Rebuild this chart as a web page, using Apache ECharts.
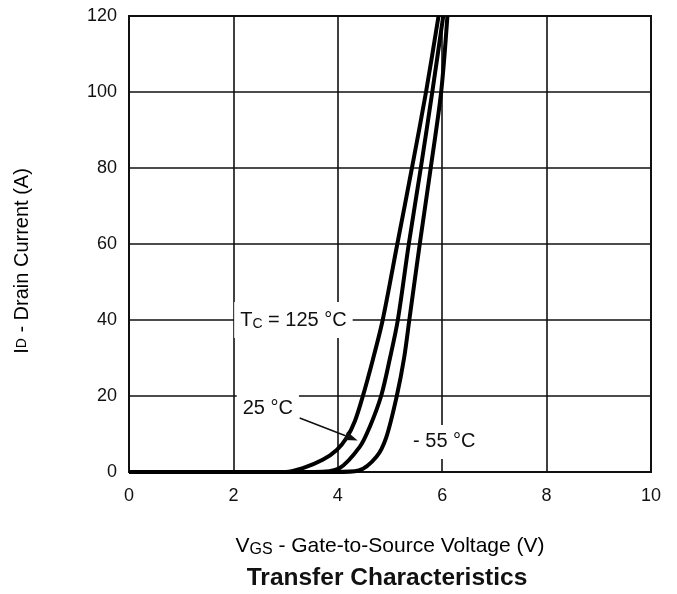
<!DOCTYPE html>
<html><head><meta charset="utf-8">
<script src="https://cdn.jsdelivr.net/npm/echarts@6/dist/echarts.min.js"></script>
<style>html,body{margin:0;padding:0;background:#fff}#c{width:677px;height:594px}</style>
</head><body><div id="c"></div>
<script>
// ---- data ----
const xTicks = [0, 2, 4, 6, 8, 10];
const yTicks = [0, 20, 40, 60, 80, 100, 120];
const seriesNames = ['125 °C', '25 °C', '-55 °C'];
const v125 = [0, 2.6, 3.0, 3.33, 3.71, 3.98, 4.17, 4.33, 4.47, 4.67, 4.86, 5.14, 5.42, 5.69, 5.93];
const i125 = [0, 0, 0, 1.0, 3.2, 5.8, 9, 13.5, 19.5, 29.5, 40, 60, 80, 100, 120];
const v25 = [0, 3, 3.55, 4.03, 4.42, 4.61, 4.83, 5.0, 5.15, 5.36, 5.59, 5.81, 6.02];
const i25 = [0, 0, 0, 1, 6.6, 11.8, 20, 30, 40, 60, 80, 100, 120];
const vm55 = [0, 3.5, 3.95, 4.4, 4.74, 4.93, 5.13, 5.27, 5.37, 5.57, 5.78, 5.98, 6.1];
const im55 = [0, 0, 0, 0.4, 4, 9.2, 20, 30, 40, 60, 80, 100, 120];
// annotation anchors (data coords)
const lbl125 = [3.15, 40];
const lbl25 = [2.66, 16.8];
const lblm55 = [6.04, 7.9];
const arrowFrom = [3.27, 14.2];
const arrowTo = [4.38, 8.3];

const FONT = '"Liberation Sans", Arial, sans-serif';
const pairs = (xs, ys) => xs.map((x, i) => [x, ys[i]]);

const chart = echarts.init(document.getElementById('c'));
const lineStyle = { color: '#000', width: 4 };
chart.setOption({
  animation: false,
  backgroundColor: '#fff',
  grid: { left: 129, top: 16, right: 26, bottom: 122, show: true, borderColor: '#111', borderWidth: 2 },
  xAxis: {
    type: 'value', min: 0, max: 10, interval: 2,
    axisLine: { show: false }, axisTick: { show: false },
    splitLine: { show: true, lineStyle: { color: '#111', width: 1.6 } },
    axisLabel: { color: '#111', fontSize: 18, fontFamily: FONT, margin: 15,
      formatter: v => xTicks.includes(v) ? String(v) : '' }
  },
  yAxis: {
    type: 'value', min: 0, max: 120, interval: 20,
    axisLine: { show: false }, axisTick: { show: false },
    splitLine: { show: true, lineStyle: { color: '#111', width: 1.6 } },
    axisLabel: { color: '#111', fontSize: 18, fontFamily: FONT, margin: 12,
      formatter: v => yTicks.includes(v) ? String(v) : '' }
  },
  series: [
    { name: seriesNames[0], type: 'line', data: pairs(v125, i125), showSymbol: false, smooth: 0.3, lineStyle, z: 3 },
    { name: seriesNames[1], type: 'line', data: pairs(v25, i25), showSymbol: false, smooth: 0.3, lineStyle, z: 3 },
    { name: seriesNames[2], type: 'line', data: pairs(vm55, im55), showSymbol: false, smooth: 0.3, lineStyle, z: 3 }
  ]
});

const px = p => chart.convertToPixel({ xAxisIndex: 0, yAxisIndex: 0 }, p);
const p125 = px(lbl125), p25 = px(lbl25), pm55 = px(lblm55);
const a0 = px(arrowFrom), a1 = px(arrowTo);
const ang = Math.atan2(a1[1] - a0[1], a1[0] - a0[0]);
const hl = 13, hw = 4.5;
const bx = a1[0] - hl * Math.cos(ang), by = a1[1] - hl * Math.sin(ang);
const head = [
  [a1[0], a1[1]],
  [bx - hw * Math.sin(ang), by + hw * Math.cos(ang)],
  [bx + hw * Math.sin(ang), by - hw * Math.cos(ang)]
];
const labelStyle = (text, rich) => ({
  text, rich, fill: '#111', font: '20px ' + FONT,
  align: 'center', verticalAlign: 'middle',
  backgroundColor: '#fff', padding: [7, 6, 7, 6]
});
const r = { a: { fontSize: 20, fontFamily: FONT, color: '#111' }, s: { fontSize: 14, fontFamily: FONT, color: '#111', padding: [8, 0, 0, 0] } };
chart.setOption({
  graphic: [
    { type: 'text', x: p125[0], y: p125[1], z: 10, style: labelStyle('{a|T}{s|C}{a| = 125 °C}', r) },
    { type: 'text', x: p25[0], y: p25[1], z: 10, style: labelStyle('{a|25 °C}', r) },
    { type: 'text', x: pm55[0], y: pm55[1], z: 10, style: labelStyle('{a|- 55 °C}', r) },
    { type: 'line', z: 11, shape: { x1: a0[0], y1: a0[1], x2: bx, y2: by }, style: { stroke: '#111', lineWidth: 1.5 } },
    { type: 'polygon', z: 11, shape: { points: head }, style: { fill: '#111' } },
    { type: 'text', x: 22, y: 261, rotation: Math.PI / 2, z: 10,
      style: { text: '{a|I}{s|D}{a| - Drain Current (A)}', align: 'center', verticalAlign: 'middle',
        rich: { a: { fontSize: 20, fontFamily: FONT, color: '#111' }, s: { fontSize: 14, fontFamily: FONT, color: '#111' } } } },
    { type: 'text', x: 390, y: 546, z: 10,
      style: { text: '{a|V}{s|GS}{a| - Gate-to-Source Voltage (V)}', align: 'center', verticalAlign: 'middle',
        rich: { a: { fontSize: 21, fontFamily: FONT, color: '#111' }, s: { fontSize: 16, fontFamily: FONT, color: '#111', padding: [8, 0, 0, 0] } } } },
    { type: 'text', x: 387, y: 578, z: 10,
      style: { text: 'Transfer Characteristics', align: 'center', verticalAlign: 'middle',
        font: 'bold 24.5px ' + FONT, fill: '#111' } }
  ]
});
</script></body></html>
